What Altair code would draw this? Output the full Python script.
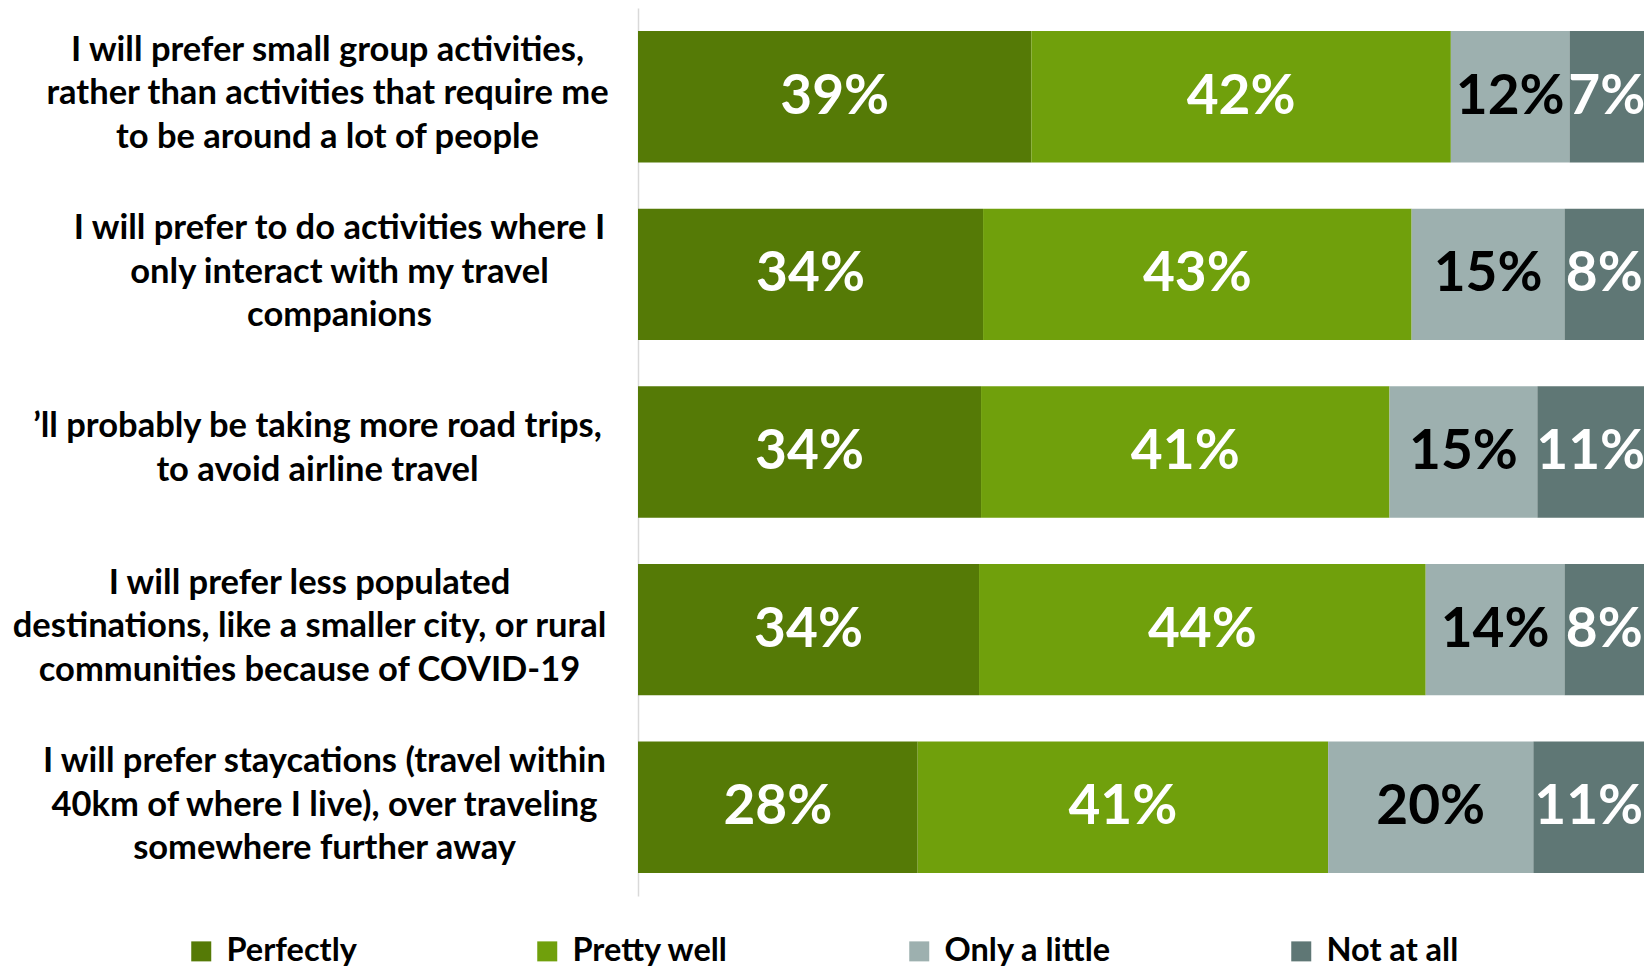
import json
import altair as alt
import pandas as pd

questions = [
    "I will prefer small group activities,|rather than activities that require me|to be around a lot of people",
    "I will prefer to do activities where I|only interact with my travel|companions",
    "\u2019ll probably be taking more road trips,|to avoid airline travel",
    "I will prefer less populated|destinations, like a smaller city, or rural|communities because of COVID-19",
    "I will prefer staycations (travel within|40km of where I live), over traveling|somewhere further away",
]
responses = ["Perfectly", "Pretty well", "Only a little", "Not at all"]
perfectly = [39.1, 34.3, 34.1, 33.9, 27.8]
pretty_well = [41.7, 42.6, 40.6, 44.4, 40.8]
only_a_little = [11.8, 15.2, 14.7, 13.8, 20.4]
not_at_all = [7.4, 7.9, 10.6, 7.9, 11.0]
colors = ["#557A06", "#70A00C", "#9DB0AF", "#5F7775"]

series = [perfectly, pretty_well, only_a_little, not_at_all]
rows = []
for qi, q in enumerate(questions):
    for ri, r in enumerate(responses):
        rows.append({"question": q, "response": r, "order": ri, "value": series[ri][qi]})
df = pd.DataFrame(rows)

# per-label padding / offset so each wrapped block is right-aligned with centred lines
label_pad = [311, 299, 321, 329, 314]
label_off = [-46, -45, -25, -46, -45]


def per_label(vals, default):
    return {
        "condition": [
            {"test": "datum.value == " + json.dumps(q), "value": v}
            for q, v in zip(questions, vals)
        ],
        "value": default,
    }


FONT = "Lato"

base = alt.Chart(df).transform_stack(
    stack="value", groupby=["question"], sort=[alt.SortField("order")], as_=["x0", "x1"]
).transform_calculate(
    mid="(datum.x0 + datum.x1) / 2",
    label="format(datum.value, '.0f') + '%'",
)

y_enc = alt.Y(
    "question:N",
    sort=questions,
    scale=alt.Scale(paddingInner=0.26, paddingOuter=0.13),
    axis=alt.Axis(
        title=None,
        labelExpr="split(datum.label, '|')",
        labelFont=FONT,
        labelFontWeight="bold",
        labelFontSize=34.5,
        labelLineHeight=43.5,
        labelAlign="center",
        labelBaseline="middle",
        labelPadding=per_label(label_pad, 310),
        labelOffset=per_label(label_off, -45),
        labelColor="black",
        labelLimit=0,
        ticks=False,
        domainColor="#d9d9d9",
        domainWidth=1.5,
        grid=False,
    ),
)

bars = base.mark_bar().encode(
    y=y_enc,
    x=alt.X("x0:Q", scale=alt.Scale(domain=[0, 100], nice=False), axis=None),
    x2="x1:Q",
    color=alt.Color(
        "response:N",
        scale=alt.Scale(domain=responses, range=colors),
        legend=alt.Legend(
            title=None,
            orient="none",
            legendX=-453,
            legendY=927,
            direction="horizontal",
            columns=4,
            columnPadding=174,
            symbolType="square",
            symbolSize=400,
            symbolStrokeWidth=0,
            labelFont=FONT,
            labelFontWeight="bold",
            labelFontSize=32.5,
            labelColor="black",
            labelOffset=9,
            labelLimit=0,
        ),
    ),
)

text = base.mark_text(font=FONT, fontWeight="bold", fontSize=55, baseline="middle").encode(
    y=alt.Y("question:N", sort=questions),
    x=alt.X("mid:Q"),
    text="label:N",
    color=alt.condition("datum.response == 'Only a little'", alt.value("black"), alt.value("white")),
)

chart = alt.layer(bars, text).properties(
    width=1006,
    height=888,
    autosize=alt.AutoSizeParams(type="none"),
    padding={"left": 630, "top": 0, "right": 0, "bottom": 74},
).configure_view(stroke=None)

chart.save("out.html", embed_options={"renderer": "svg", "actions": False})
